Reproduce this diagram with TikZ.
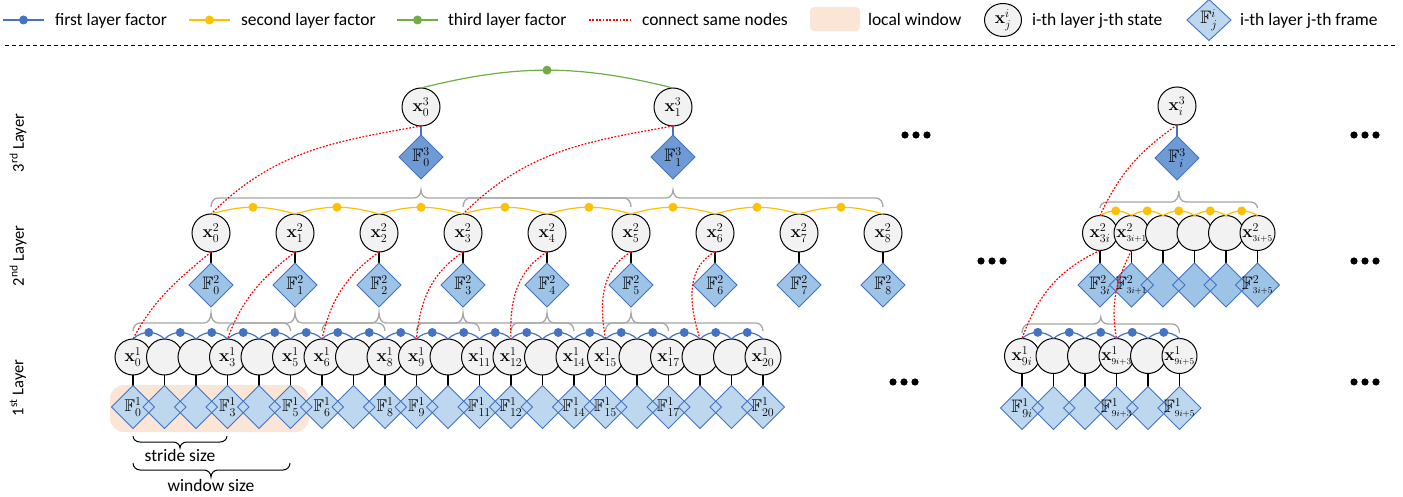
\documentclass[tikz,border=0pt]{standalone}
\usepackage{amssymb}
\usepackage[no-math]{fontspec}
\setmainfont{Carlito}
\usetikzlibrary{shapes.geometric}
\definecolor{cfill}{HTML}{F2F2F2}
\definecolor{dA}{HTML}{BDD7EE}
\definecolor{dB}{HTML}{9DC3E6}
\definecolor{dC}{HTML}{6F9BD5}
\definecolor{bl}{HTML}{4472C4}
\definecolor{yw}{HTML}{FFC000}
\definecolor{gr}{HTML}{70AD47}
\definecolor{gy}{HTML}{A6A6A6}
\definecolor{pe}{HTML}{FBE5D6}
\newcommand\upbr[7][gbr]{\draw[#1] (#2,#5) to[out=90,in=180] ({#2+7},#6) -- ({#3-7},#6) to[out=0,in=-90] (#3,#7) to[out=-90,in=180] ({#3+7},#6) -- ({#4-7},#6) to[out=0,in=90] (#4,#5);}
\newcommand\dnbr[7][kbr]{\draw[#1] (#2,#5) to[out=-90,in=180] ({#2+7},#6) -- ({#3-7},#6) to[out=0,in=90] (#3,#7) to[out=90,in=180] ({#3+7},#6) -- ({#4-7},#6) to[out=0,in=-90] (#4,#5);}
\newcommand\doutline[1]{\draw[dout] (#1.north) -- (#1.east) -- (#1.south) -- (#1.west) -- cycle;}
\begin{document}
\begin{tikzpicture}[x=1pt,y=1pt,
 every node/.style={inner sep=0pt, outer sep=0pt},
 cnode/.style={circle, draw=black, line width=1pt, fill=cfill},
 c1/.style={cnode, minimum size=36pt},
 c2/.style={cnode, minimum size=38pt},
 cr/.style={cnode, minimum size=35pt},
 fbase/.style={diamond, aspect=1, minimum width=43pt, minimum height=43pt},
 fdA/.style={fbase, fill=dA}, fdB/.style={fbase, fill=dB, minimum width=44pt, minimum height=44pt}, fdC/.style={fbase, fill=dC, minimum width=44pt, minimum height=44pt},
 dout/.style={draw=bl, line width=0.9pt, line join=miter},
 labA/.style={font=\fontsize{17}{19}\selectfont},
 labB/.style={font=\fontsize{18}{20}\selectfont},
 vline/.style={black, line width=1.1pt},
 vlineC/.style={bl, line width=1.1pt},
 flA/.style={bl, line width=1.2pt},
 flB/.style={yw, line width=1.2pt},
 flC/.style={gr, line width=1.2pt},
 dotA/.style={circle, fill=bl, minimum size=9pt},
 dotB/.style={circle, fill=yw, minimum size=9pt},
 dotC/.style={circle, fill=gr, minimum size=9pt},
 rl/.style={red, line width=1.2pt, dash pattern=on 1.8pt off 1.6pt},
 gbr/.style={gy, line width=1.3pt},
 kbr/.style={black, line width=1pt},
 txt/.style={font=\fontsize{17.5}{20}\selectfont},
 ltxt/.style={font=\fontsize{16.5}{19}\selectfont},
]
\useasboundingbox (0,0) rectangle (1403,-497);
% ---------------- legend
\coordinate (la1) at (3,-20); \coordinate (lb1) at (44,-20);
\draw[flA] (la1) -- node[dotA]{} (lb1);
\node[txt, anchor=base west] (lt1) at (55,-26) {first layer factor};
\coordinate (la2) at (189,-20); \coordinate (lb2) at (230,-20);
\draw[flB] (la2) -- node[dotB]{} (lb2);
\node[txt, anchor=base west] (lt2) at (241,-26) {second layer factor};
\coordinate (la3) at (397,-20); \coordinate (lb3) at (438,-20);
\draw[flC] (la3) -- node[dotC]{} (lb3);
\node[txt, anchor=base west] (lt3) at (448,-26) {third layer factor};
\coordinate (la4) at (589,-20); \coordinate (lb4) at (630,-20);
\draw[rl] (la4) -- (lb4);
\node[txt, anchor=base west] (lt4) at (642,-26) {connect same nodes};
\node[fill=pe, rounded corners=4pt, minimum width=50pt, minimum height=24pt] (lw) at (835,-19) {};
\node[txt, anchor=base west] (lt5) at (868,-26) {local window};
\node[ellipse, draw=black, line width=1pt, fill=cfill, minimum width=37pt, minimum height=33pt, labB] (lc) at (1003,-20) {$\mathbf{x}^i_j$};
\node[txt, anchor=base west] (lt6) at (1032,-26) {i-th layer j-th state};
\node[fbase, fill=dA, minimum width=44pt, minimum height=41pt] (ld) at (1209,-20) {};
\doutline{ld}
\node[labB] at (ld) {$\mathbb{F}^i_j$};
\node[txt, anchor=base west] (lt7) at (1240,-26) {i-th layer j-th frame};
\coordinate (da) at (5,-45); \coordinate (db) at (1397,-45);
\draw[black, line width=0.8pt, dash pattern=on 4pt off 3pt] (da) -- (db);
% ---------------- layer labels
\node[ltxt, rotate=90] (L3) at (18,-143) {3\textsuperscript{rd} Layer};
\node[ltxt, rotate=90] (L2) at (18,-256) {2\textsuperscript{nd} Layer};
\node[ltxt, rotate=90] (L1) at (18,-388) {1\textsuperscript{st} Layer};
% ---------------- local window
\node[fill=pe, rounded corners=14pt, minimum width=199pt, minimum height=47pt] (win) at (209.5,-408.5) {};
% ---------------- gray braces
\foreach \k in {0,...,5} {\upbr{133+94.5*\k}{211+84*\k}{290.5+94.5*\k}{-331}{-323}{-313}}
\foreach \k in {0,1} {\upbr{211+252*\k}{421+252*\k}{631+252*\k}{-207}{-198}{-190}}
\upbr{1100}{1178.75}{1257.5}{-208}{-202}{-191}
\upbr{1022}{1100.75}{1179.5}{-333}{-324}{-317}
% ---------------- layer 1 (left)
\foreach \k in {0,...,20} {
  \node[c1] (n1-\k) at ({133+31.5*\k},-357) {};
  \node[fdA] (f1-\k) at ({133+31.5*\k},-407) {};
  \draw[vline] (n1-\k.south) -- (f1-\k.north);
}
\foreach \k in {0,...,20} {\doutline{f1-\k}}
\foreach \k in {0,3,5,6,8,9,11,12,14,15,17,20} {
  \node[labA] at (n1-\k) {$\mathbf{x}^1_{\k}$};
  \node[labA] at (f1-\k) {$\mathbb{F}^1_{\k}$};
}
% ---------------- layer 2 (left)
\foreach \k in {0,...,8} {
  \node[c2, labB] (n2-\k) at ({211+84*\k},-233) {$\mathbf{x}^2_{\k}$};
  \node[fdB] (f2-\k) at ({211+84*\k},-285) {};
  \draw[vline] (n2-\k.south) -- (f2-\k.north);
  \doutline{f2-\k}
  \node[labB] at (f2-\k) {$\mathbb{F}^2_{\k}$};
}
% ---------------- layer 3 (left)
\foreach \k in {0,1} {
  \node[c2, labB] (n3-\k) at ({421+252*\k},-107) {$\mathbf{x}^3_{\k}$};
  \node[fdC] (f3-\k) at ({421+252*\k},-157) {};
  \draw[vlineC] (n3-\k.south) -- (f3-\k.north);
  \doutline{f3-\k}
  \node[labB] at (f3-\k) {$\mathbb{F}^3_{\k}$};
}
% ---------------- right part
\node[c2, labB] (r3) at (1177,-106) {$\mathbf{x}^3_{i}$};
\node[fdC] (rf3) at (1177,-158) {};
\draw[vlineC] (r3.south) -- (rf3.north);
\doutline{rf3}
\node[labB] at (rf3) {$\mathbb{F}^3_{i}$};
\foreach \k in {0,...,5} {
  \node[cr] (r2-\k) at ({1100+31.5*\k},-233) {};
  \node[fdB] (rf2-\k) at ({1100+31.5*\k},-285) {};
  \draw[vline] (r2-\k.south) -- (rf2-\k.north);
}
\foreach \k in {0,...,5} {\doutline{rf2-\k}}
\node[labB] at (r2-0) {$\mathbf{x}^2_{3i}$};
\node[labB] at (r2-1) {$\mathbf{x}^2_{\scriptscriptstyle 3i+1}$};
\node[labB] at (r2-5) {$\mathbf{x}^2_{\scriptscriptstyle 3i+5}$};
\node[labB] at (rf2-0) {$\mathbb{F}^2_{3i}$};
\node[labB] at (rf2-1) {$\mathbb{F}^2_{\scriptscriptstyle 3i+1}$};
\node[labB] at (rf2-5) {$\mathbb{F}^2_{\scriptscriptstyle 3i+5}$};
\foreach \k in {0,...,5} {
  \node[cr] (r1-\k) at ({1022+31.5*\k},-356) {};
  \node[fdA] (rf1-\k) at ({1022+31.5*\k},-408) {};
  \draw[vline] (r1-\k.south) -- (rf1-\k.north);
}
\foreach \k in {0,...,5} {\doutline{rf1-\k}}
\node[labB] at (r1-0) {$\mathbf{x}^1_{9i}$};
\node[labB] at (r1-3) {$\mathbf{x}^1_{\scriptscriptstyle 9i+3}$};
\node[labB] at (r1-5) {$\mathbf{x}^1_{\scriptscriptstyle 9i+5}$};
\node[labB] at (rf1-0) {$\mathbb{F}^1_{9i}$};
\node[labB] at (rf1-3) {$\mathbb{F}^1_{\scriptscriptstyle 9i+3}$};
\node[labB] at (rf1-5) {$\mathbb{F}^1_{\scriptscriptstyle 9i+5}$};
% ---------------- factors
\foreach \k [evaluate=\k as \j using int(\k+1)] in {0,...,19} {
  \draw[flA] (n1-\k.north) to[bend left=45] node[dotA]{} (n1-\j.north);
}
\foreach \k [evaluate=\k as \j using int(\k+1)] in {0,...,7} {
  \draw[flB] (n2-\k.north) to[bend left=16] node[dotB]{} (n2-\j.north);
}
\draw[flC] (n3-0.north) to[bend left=14] node[dotC]{} (n3-1.north);
\foreach \k [evaluate=\k as \j using int(\k+1)] in {0,...,4} {
  \draw[flB] (r2-\k.north) to[bend left=30] node[dotB]{} (r2-\j.north);
  \draw[flA] (r1-\k.north) to[bend left=42] node[dotA]{} (r1-\j.north);
}
% ---------------- red links
\draw[rl] (n3-0.south) to[out=190,in=45] (n2-0.north);
\draw[rl] (n3-1.south) to[out=190,in=45] (n2-3.north);
\foreach \k [evaluate=\k as \j using int(3*\k), evaluate=\k as \o using 220-2*\k, evaluate=\k as \i using 62+7.6*\k] in {0,...,6} {
  \draw[rl] (n2-\k.south) to[out=\o,in=\i] (n1-\j.north);
}
\draw[rl] (r3.south) to[out=215,in=65] (r2-0.north);
\draw[rl] (r2-0.south) to[out=205,in=70] (r1-0.north);
\draw[rl] (r2-1.south) to[out=243,in=100] (r1-3.north);
% ---------------- stride / window
\dnbr{133}{180}{227}{-436}{-442}{-448}
\node[txt, anchor=base] (stt) at (180,-461) {stride size};
\dnbr{133}{211}{290}{-463}{-470}{-477}
\node[txt, anchor=base] (wnt) at (211,-491) {window size};
% ---------------- ellipses
\foreach \ex/\ey in {916/-135,992/-261,904/-382,1365/-135,1365/-261,1365/-382} {
  \foreach \d in {-11,0,11} {\fill ({\ex+\d},\ey) circle (3.6pt);}
}
\end{tikzpicture}
\end{document}
